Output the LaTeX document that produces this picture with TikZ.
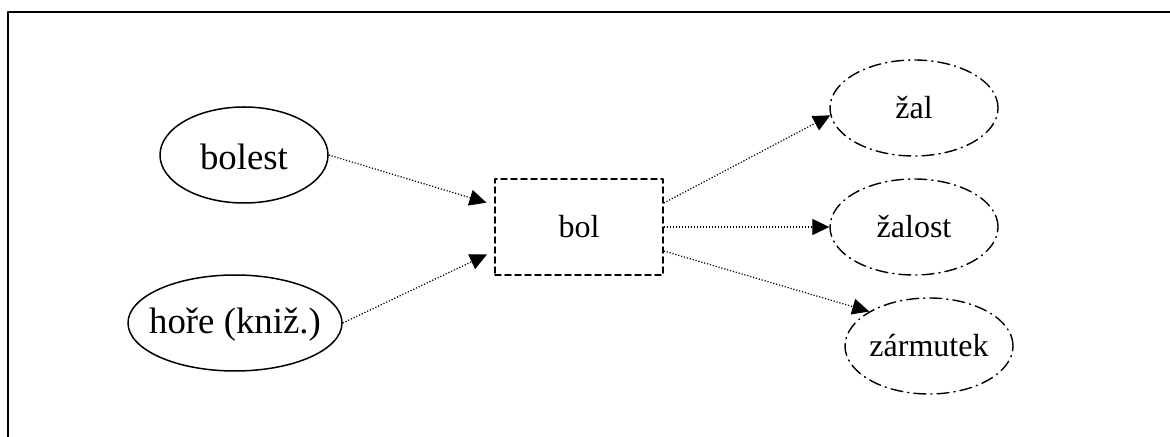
\documentclass[tikz,border=0pt]{standalone}
\usepackage{fontspec}
\setmainfont{Liberation Serif}
\usepackage{tikz}
\usetikzlibrary{arrows.meta,shapes.geometric}

\begin{document}
\begin{tikzpicture}[line cap=round,line join=round,>={Triangle[length=8.5pt,width=8pt]},x=0.5pt,y=-0.5pt,
			bigoval/.style={ellipse,draw,line width=0.75pt,inner sep=0pt,minimum height=48pt},
			smalloval/.style={ellipse,draw,line width=0.7pt,inner sep=0pt,minimum width=84pt,minimum height=48pt,dash pattern=on 6pt off 2.5pt on 0.6pt off 2.5pt},
			bolbox/.style={rectangle,draw,line width=0.8pt,minimum width=84pt,minimum height=48pt,dash pattern=on 3pt off 2pt,font=\fontsize{16}{19}\selectfont},
			bigtext/.style={font=\fontsize{18.4}{22}\selectfont},
			smalltext/.style={font=\fontsize{16}{19}\selectfont},
			link/.style={->,line width=0.6pt,dash pattern=on 0.6pt off 0.9pt,line cap=butt,shorten >=4pt}]
			\useasboundingbox (0,0) rectangle (1170,437);
			\draw [line width=1pt] (8,437)-- (8,12)-- (1170,12);
			\node[bigoval,minimum width=84pt,label={[bigtext,yshift=-1pt]center:bolest}] (bolest) at (244,155) {};
			\node[bigoval,minimum width=107pt,label={[bigtext,yshift=-1pt]center:hoře (kniž.)}] (hore) at (235,323) {};
			\node[bolbox] (bol) at (579,227) {bol};
			\node[smalloval,label={[smalltext]center:žal}] (zal) at (914,108) {};
			\node[smalloval,label={[smalltext]center:žalost}] (zalost) at (914,227) {};
			\node[smalloval,label={[smalltext]center:zármutek}] (zarmutek) at (929,346) {};
			\draw [link] (bolest.east)-- ([yshift=11pt]bol.west);
			\draw [link] (hore.east)-- ([yshift=-12pt]bol.west);
			\draw [link,shorten >=0pt] ([yshift=12pt]bol.east)-- (zal.185);
			\draw [link,shorten >=0pt] (bol.east)-- (zalost.west);
			\draw [link,shorten >=0pt] ([yshift=-12pt]bol.east)-- (zarmutek.150);
\end{tikzpicture}
\end{document}
